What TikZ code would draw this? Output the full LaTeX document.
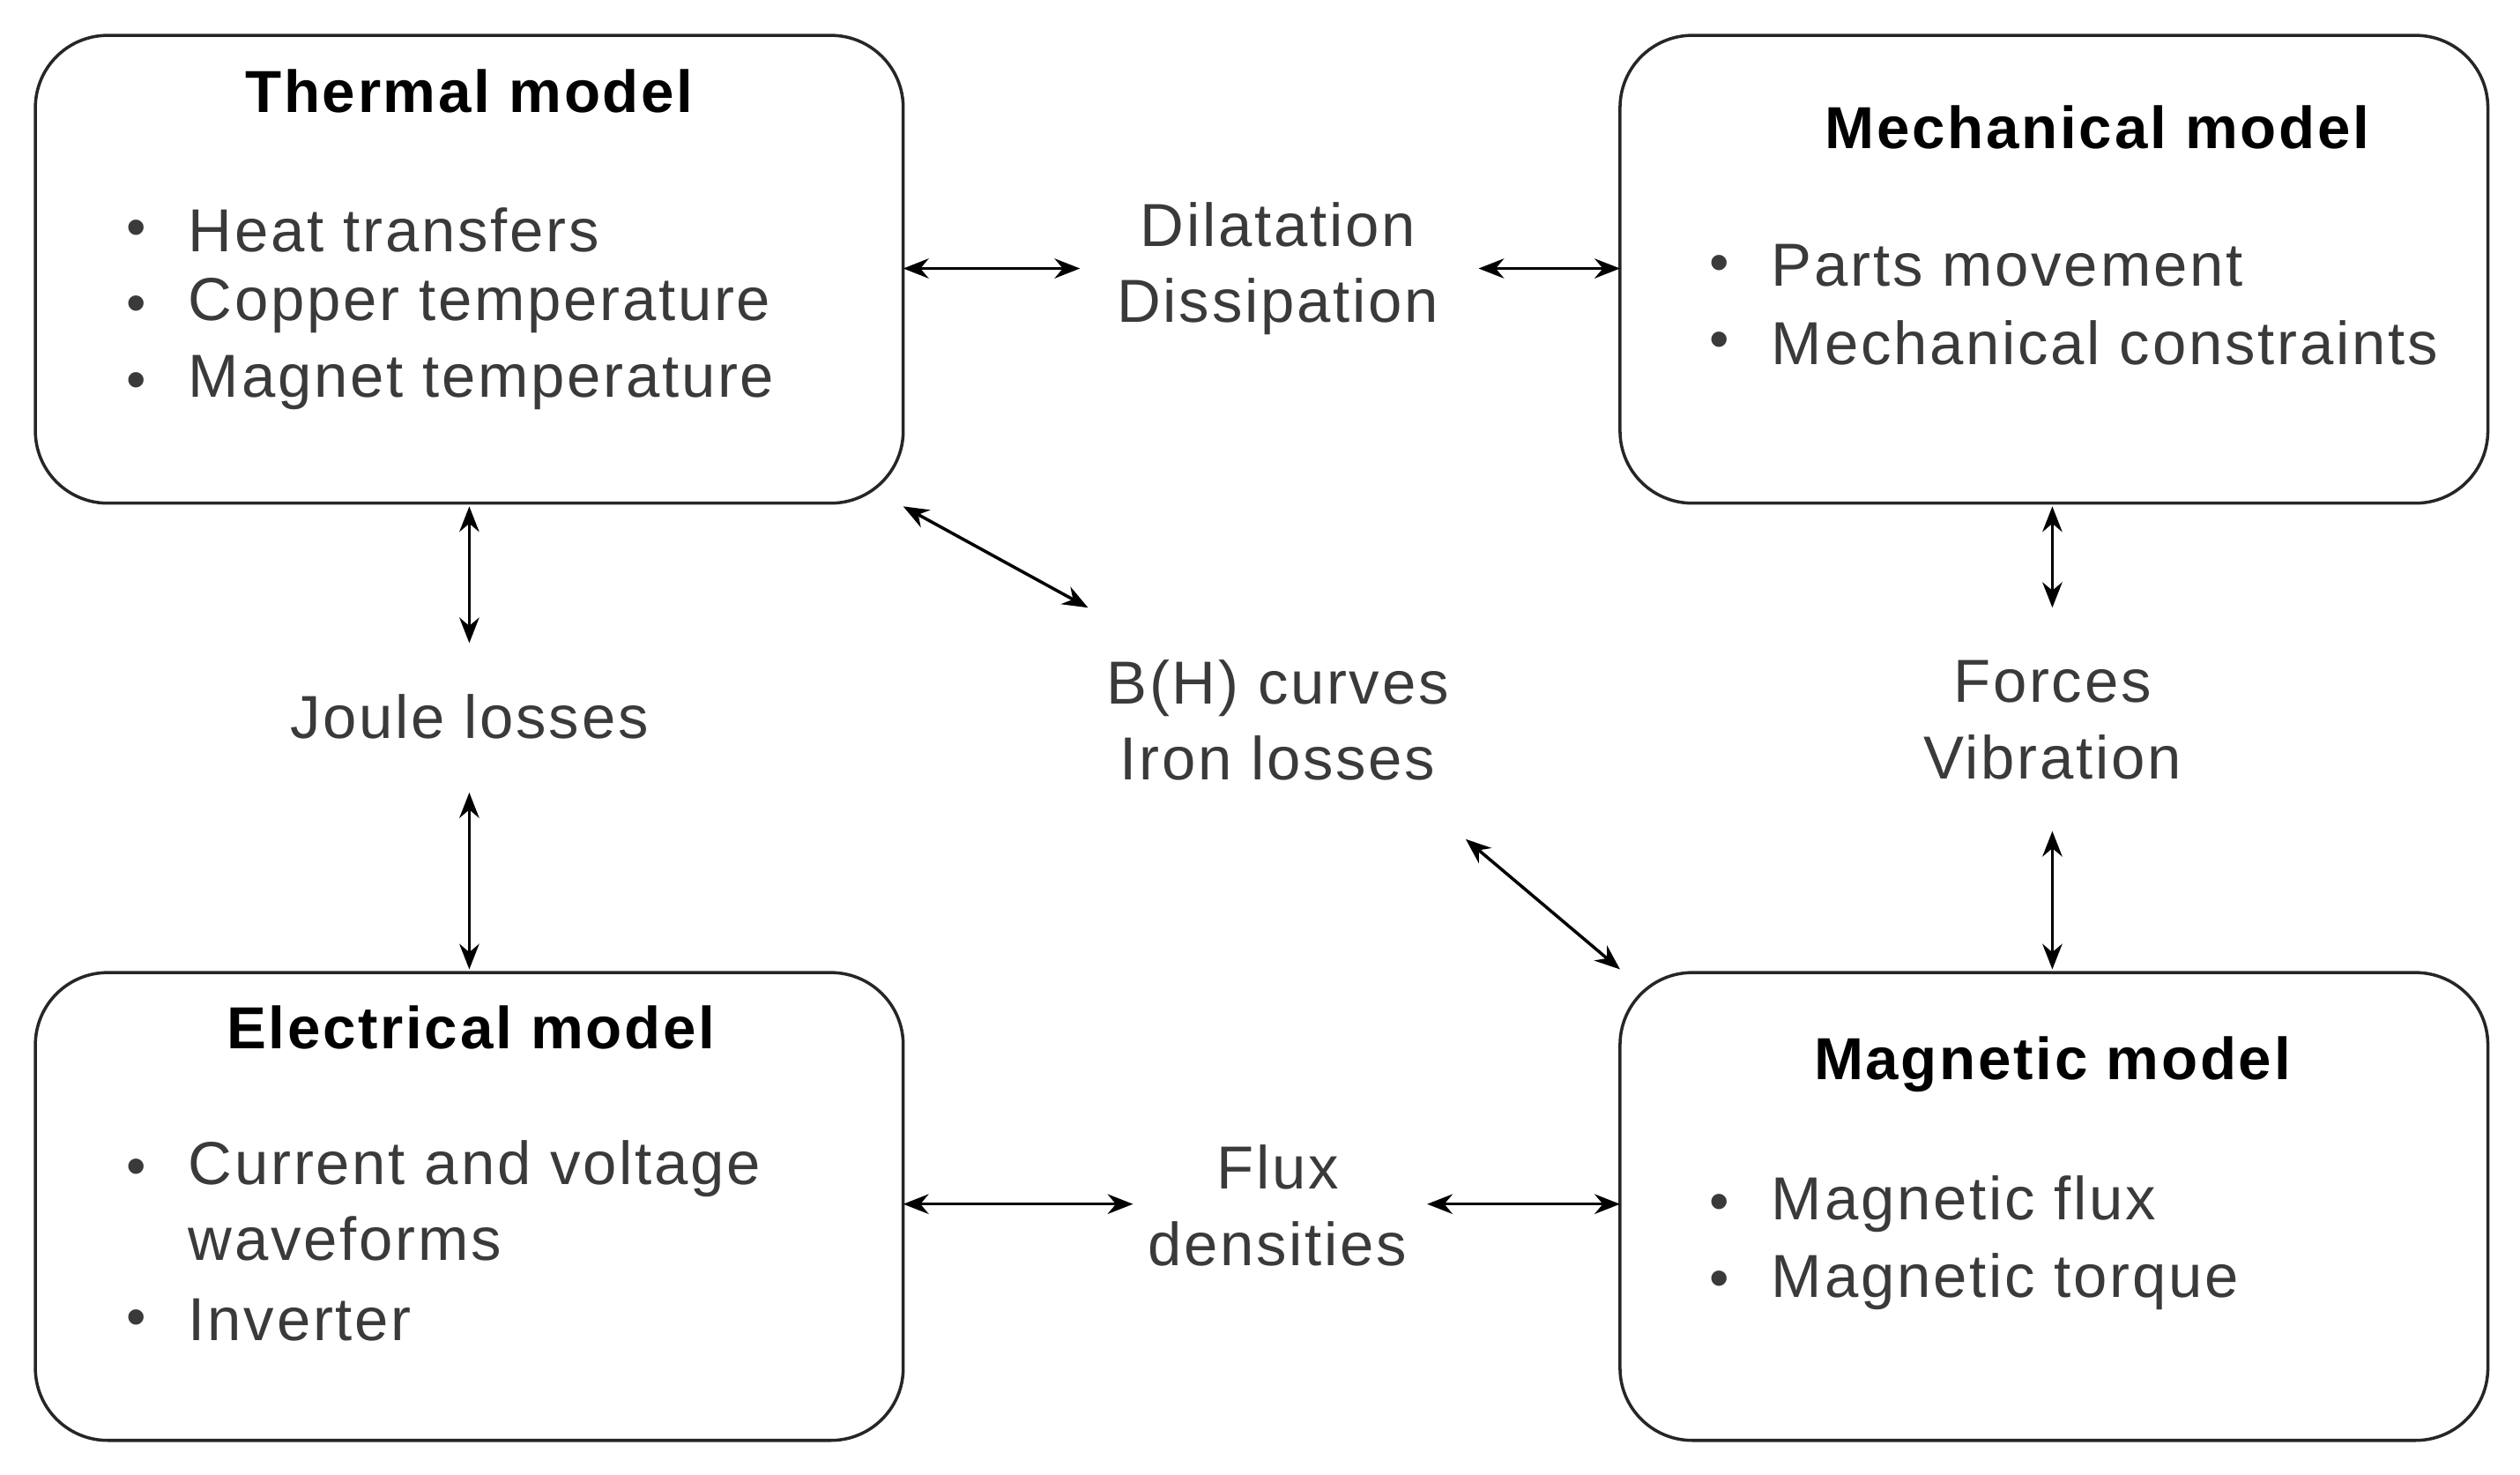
\documentclass[tikz,border=0pt]{standalone}
\usepackage{fontspec}
\setmainfont{Liberation Sans}[LetterSpace=4]
\usetikzlibrary{arrows.meta}
\definecolor{txt}{HTML}{3A3A3A}
\begin{document}
\begin{tikzpicture}[x=0.02cm,y=-0.02cm,
 box/.style={draw=black!85,line width=1.1pt,rounded corners=0.9cm},
 ttl/.style={font=\fontsize{21}{24}\selectfont\bfseries,text=black},
 lbl/.style={font=\fontsize{21.5}{27}\selectfont,text=txt,align=center},
 itm/.style={font=\fontsize{21.5}{27}\selectfont,text=txt,anchor=west,align=left,inner sep=0},
 bul/.style={font=\fontsize{20}{27}\selectfont,text=txt,inner sep=0},
 arr/.style={{Stealth[length=9pt,width=7pt]}-{Stealth[length=9pt,width=7pt]},line width=1.1pt}]
\useasboundingbox (0,0) rectangle (1568,917);
\draw[box] (22,22) rectangle (562,313);
\draw[box] (1008,22) rectangle (1548,313);
\draw[box] (22,605) rectangle (562,896);
\draw[box] (1008,605) rectangle (1548,896);
% Thermal
\node[ttl] (tt) at (292,57) {Thermal model};
\foreach \y/\t [count=\i] in {143/Heat transfers,190/Copper temperature,238/Magnet temperature}{
 \node[bul] (tb\i) at (85,\y+2) {\textbullet};
 \node[itm] (ti\i) at (117,\y) {\t};}
% Mechanical
\node[ttl] (mt) at (1305,79) {Mechanical model};
\foreach \y/\t [count=\i] in {165/Parts movement,213/Mechanical constraints}{
 \node[bul] (mb\i) at (1070,\y+2) {\textbullet};
 \node[itm] (mi\i) at (1102,\y) {\t};}
% Electrical
\node[ttl] (et) at (293,639) {Electrical model};
\node[bul] (eb1) at (85,729) {\textbullet};
\node[itm,anchor=north west] (ei1) at (117,709) {Current and voltage\\waveforms};
\node[bul] (eb2) at (85,823) {\textbullet};
\node[itm] (ei2) at (117,821) {Inverter};
% Magnetic
\node[ttl] (gt) at (1277,662) {Magnetic model};
\foreach \y/\t [count=\i] in {749/Magnetic flux,797/Magnetic torque}{
 \node[bul] (gb\i) at (1070,\y+2) {\textbullet};
 \node[itm] (gi\i) at (1102,\y) {\t};}
% labels
\node[lbl] (dd) at (795,167) {Dilatation\\Dissipation};
\node[lbl] (jl) at (292,446) {Joule losses};
\node[lbl] (bh) at (795,448) {B(H) curves\\Iron losses};
\node[lbl] (fv) at (1277,448) {Forces\\Vibration};
\node[lbl] (fd) at (795,750) {Flux\\densities};
% arrow ends
\coordinate (a1) at (562,167); \coordinate (a2) at (672,167);
\coordinate (a3) at (920,167); \coordinate (a4) at (1008,167);
\coordinate (b1) at (292,315); \coordinate (b2) at (292,400);
\coordinate (b3) at (292,493); \coordinate (b4) at (292,603);
\coordinate (c1) at (562,315); \coordinate (c2) at (677,378);
\coordinate (c3) at (912,522); \coordinate (c4) at (1008,603);
\coordinate (d1) at (1277,315); \coordinate (d2) at (1277,378);
\coordinate (d3) at (1277,517); \coordinate (d4) at (1277,603);
\coordinate (e1) at (562,749); \coordinate (e2) at (705,749);
\coordinate (e3) at (888,749); \coordinate (e4) at (1008,749);
\foreach \p in {a,b,c,d,e}{
 \draw[arr] (\p1) -- (\p2);
 \draw[arr] (\p3) -- (\p4);}
\end{tikzpicture}
\end{document}
